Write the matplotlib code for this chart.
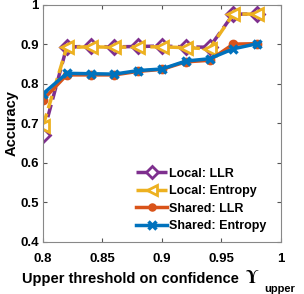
import numpy as np
import matplotlib
matplotlib.use("Agg")
import matplotlib.pyplot as plt

plt.rcParams['font.family'] = ['Liberation Sans', 'DejaVu Sans']
plt.rcParams['font.weight'] = 'bold'
plt.rcParams['mathtext.fontset'] = 'stix'

# data
thresholds = [0.80, 0.82, 0.84, 0.86, 0.88, 0.90, 0.92, 0.94, 0.96, 0.98]
local_llr = [0.671, 0.894, 0.895, 0.894, 0.895, 0.896, 0.894, 0.893, 0.977, 0.977]
local_entropy = [0.694, 0.893, 0.894, 0.893, 0.894, 0.894, 0.892, 0.889, 0.977, 0.977]
shared_llr = [0.760, 0.823, 0.823, 0.823, 0.832, 0.837, 0.856, 0.860, 0.901, 0.902]
shared_entropy = [0.775, 0.827, 0.826, 0.825, 0.834, 0.838, 0.858, 0.864, 0.889, 0.902]

purple = (0.494, 0.184, 0.556)
yellow = (0.929, 0.694, 0.125)
orange = (0.850, 0.325, 0.098)
blue = (0.0, 0.447, 0.741)

fig = plt.figure(figsize=(3.04, 2.94), dpi=100)
ax = fig.add_axes([0.1414, 0.177, 0.7826, 0.806])

ax.plot(thresholds, local_llr, '--', color=purple, lw=2.5, marker='D',
        ms=7, mfc='white', mew=2, label='Local: LLR')
ax.plot(thresholds, local_entropy, '--', color=yellow, lw=2.5, marker='<',
        ms=9, mfc='white', mew=2, label='Local: Entropy')
ax.plot(thresholds, shared_llr, '-', color=orange, lw=2.5, marker='o',
        ms=6, label='Shared: LLR')
ax.plot(thresholds, shared_entropy, '-', color=blue, lw=2.5, marker='x',
        ms=6, mew=2.5, label='Shared: Entropy')

ax.set_xlim(0.8, 1.0)
ax.set_ylim(0.4, 1.0)
ax.set_xticks([0.8, 0.85, 0.9, 0.95, 1.0])
ax.set_xticklabels(['0.8', '0.85', '0.9', '0.95', '1'])
ax.set_yticks([0.4, 0.5, 0.6, 0.7, 0.8, 0.9, 1.0])
ax.set_yticklabels(['0.4', '0.5', '0.6', '0.7', '0.8', '0.9', '1'])
ax.tick_params(direction='in', top=True, right=True, labelsize=9.5,
               length=3, color='#555555', pad=3)
ax.tick_params(axis='x', pad=8)
for s in ax.spines.values():
    s.set_color('#888888')
    s.set_linewidth(0.8)

# x label built from pieces so the subscript stays sans-serif
fig.text(22 / 304, 1 - 283 / 294, 'Upper threshold on confidence',
         fontsize=10.5, fontweight='bold', ha='left', va='baseline')
fig.text(245 / 304, 1 - 283 / 294, r'$\Upsilon$', fontsize=13,
         ha='left', va='baseline')
fig.text(264 / 304, 1 - 292.5 / 294, 'upper', fontsize=8,
         fontweight='bold', ha='left', va='baseline')
ax.set_ylabel('Accuracy', fontsize=10.5, fontweight='bold', labelpad=1)

ax.legend(loc='lower right', frameon=False, fontsize=9, handlelength=2.5,
          handletextpad=0.15, labelspacing=0.45, borderaxespad=0.0,
          borderpad=0.0, markerscale=0.85, bbox_to_anchor=(0.94, 0.04))

fig.savefig('out.png', dpi=100)
